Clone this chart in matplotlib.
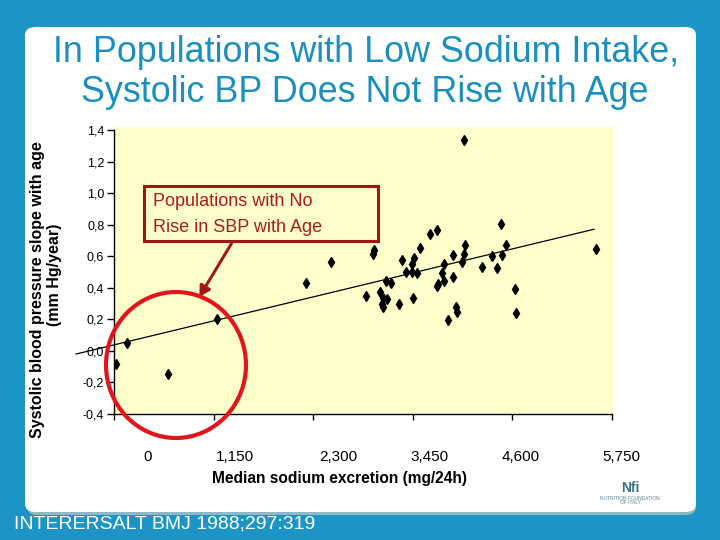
import numpy as np
import matplotlib.pyplot as plt
from matplotlib.patches import FancyBboxPatch, Ellipse, Rectangle, FancyArrowPatch

# INTERSALT centres: median sodium (mg/24h) vs SBP slope with age (mm Hg/year)
sodium = [20, 150, 627, 1189, 2217, 2502, 2910, 3005, 2994, 3068,
          3109, 3149, 3091, 3102, 3140, 3195, 3287, 3329, 3460, 3444,
          3371, 3437, 3498, 3456, 3533, 3645, 3729, 3814, 3784, 3810,
          3744, 3735, 3853, 3945, 3960, 3911, 3914, 4022, 4038, 4053,
          4041, 4245, 4368, 4419, 4480, 4523, 4468, 4633, 4638, 5569]
slope = [-0.084, 0.050, -0.144, 0.204, 0.433, 0.565, 0.346, 0.641, 0.616, 0.372,
         0.336, 0.327, 0.298, 0.276, 0.440, 0.429, 0.295, 0.578, 0.590, 0.552,
         0.497, 0.501, 0.495, 0.338, 0.651, 0.743, 0.768, 0.552, 0.495, 0.440,
         0.421, 0.414, 0.198, 0.281, 0.247, 0.609, 0.471, 0.565, 0.616, 0.669,
         1.336, 0.533, 0.599, 0.524, 0.609, 0.669, 0.807, 0.395, 0.242, 0.643]

trend_x = [-439, 5542]
trend_y = [-0.020, 0.771]

y_ticks = [-0.4, -0.2, 0.0, 0.2, 0.4, 0.6, 0.8, 1.0, 1.2, 1.4]
y_labels = ['-0,4', '-0,2', '0,0', '0,2', '0,4', '0,6', '0,8', '1,0', '1,2', '1,4']
x_ticks = [0, 1150, 2300, 3450, 4600, 5750]
x_labels = ['0', '1,150', '2,300', '3,450', '4,600', '5,750']

W, H = 720, 540
BLUE = '#1C95C6'
NARROW = ['Liberation Sans Narrow', 'Liberation Sans', 'DejaVu Sans']
ARIAL = ['Liberation Sans', 'DejaVu Sans']


def fx(x):
    return x / W


def fy(y):
    return 1 - y / H


fig = plt.figure(figsize=(7.2, 5.4), dpi=100, facecolor=BLUE)

# white slide panel with soft shadow
shadow = FancyBboxPatch((fx(27), fy(515)), fx(696) - fx(27), fy(30) - fy(515),
                        boxstyle='round,pad=0,rounding_size=0.015',
                        transform=fig.transFigure, facecolor='#8fb8c8',
                        edgecolor='none', zorder=0)
panel = FancyBboxPatch((fx(25), fy(512)), fx(696) - fx(25), fy(27) - fy(512),
                       boxstyle='round,pad=0,rounding_size=0.015',
                       transform=fig.transFigure, facecolor='white',
                       edgecolor='none', zorder=0)
# plot area fill goes a few pixels past the top/right ticks
fill = Rectangle((fx(114), fy(414)), fx(613) - fx(114), fy(127) - fy(414),
                 transform=fig.transFigure, facecolor='#FFFFCC',
                 edgecolor='none', zorder=0.5)
fig.patches.extend([shadow, panel, fill])

fig.text(fx(366), fy(52), 'In Populations with Low Sodium Intake,', ha='center',
         va='center', fontsize=25.8, color='#1A8FC0', family=ARIAL)
fig.text(fx(365), fy(92), 'Systolic BP Does Not Rise with Age', ha='center',
         va='center', fontsize=25.8, color='#1A8FC0', family=ARIAL)

ax = fig.add_axes([fx(114), fy(414), fx(612) - fx(114), fy(130) - fy(414)])
ax.set_zorder(1)
ax.patch.set_visible(False)

ax.plot(sodium, slope, linestyle='none', marker='d', markersize=5,
        color='black', zorder=3)
ax.plot(trend_x, trend_y, color='black', linewidth=0.9, clip_on=False, zorder=2)

ax.set_xlim(0, 5750)
ax.set_ylim(-0.4, 1.4)
ax.set_yticks(y_ticks)
ax.set_yticklabels(y_labels, family=NARROW, fontsize=9)
ax.set_xticks(x_ticks)
ax.set_xticklabels([])
ax.tick_params(axis='y', direction='out', length=5, width=1, pad=2)
ax.tick_params(axis='x', direction='out', length=4, width=1)
for s in ['top', 'right']:
    ax.spines[s].set_visible(False)
for s in ['left', 'bottom']:
    ax.spines[s].set_linewidth(1)

# x labels sit offset from the ticks, as on the slide
for lab, xp in zip(x_labels, [148, 235, 338, 430, 521, 621]):
    fig.text(fx(xp), fy(457), lab, ha='center', va='center', fontsize=11,
             family=ARIAL, color='black')

fig.text(fx(340), fy(478), 'Median sodium excretion (mg/24h)', ha='center',
         va='center', fontsize=11.2, fontweight='bold', family=NARROW)
fig.text(fx(38), fy(290), 'Systolic blood pressure slope with age', rotation=90,
         ha='center', va='center', fontsize=11.5, fontweight='bold', family=ARIAL)
fig.text(fx(54), fy(275), '(mm Hg/year)', rotation=90, ha='center', va='center',
         fontsize=11.5, fontweight='bold', family=ARIAL)

# callout box, arrow and circle
fig.patches.append(Rectangle((fx(144), fy(241)), fx(378) - fx(144), fy(186) - fy(241),
                             transform=fig.transFigure, facecolor='none',
                             edgecolor='#A31515', linewidth=2.2, zorder=5))
fig.text(fx(153), fy(202), 'Populations with No', ha='left', va='center',
         fontsize=13, color='#B0191C', family=ARIAL, zorder=5)
fig.text(fx(153), fy(227), 'Rise in SBP with Age', ha='left', va='center',
         fontsize=13, color='#B0191C', family=ARIAL, zorder=5)
fig.add_artist(FancyArrowPatch(
    (fx(233), fy(241)), (fx(198), fy(299)), transform=fig.transFigure,
    arrowstyle='-|>,head_length=6,head_width=3.5', color='#9E1A1A',
    linewidth=2.2, mutation_scale=1, zorder=5))
fig.patches.append(Ellipse((fx(176), fy(365)), 140 / W, 146 / H,
                           transform=fig.transFigure, facecolor='none',
                           edgecolor='#E3141B', linewidth=3, zorder=6))

# footer and logo
fig.text(fx(14), fy(524), 'INTERERSALT BMJ 1988;297:319', ha='left', va='center',
         fontsize=14, color='white', family=NARROW)
fig.text(fx(630), fy(488), 'Nfi', ha='center', va='center', fontsize=10,
         fontweight='bold', color='#3A6F8A', family=ARIAL)
fig.text(fx(630), fy(498), 'NUTRITION FOUNDATION', ha='center', va='center',
         fontsize=3.5, color='#5A7F90', family=ARIAL)
fig.text(fx(630), fy(502), 'OF ITALY', ha='center', va='center',
         fontsize=3.5, color='#5A7F90', family=ARIAL)

fig.savefig('out.png', dpi=100, facecolor=BLUE)
